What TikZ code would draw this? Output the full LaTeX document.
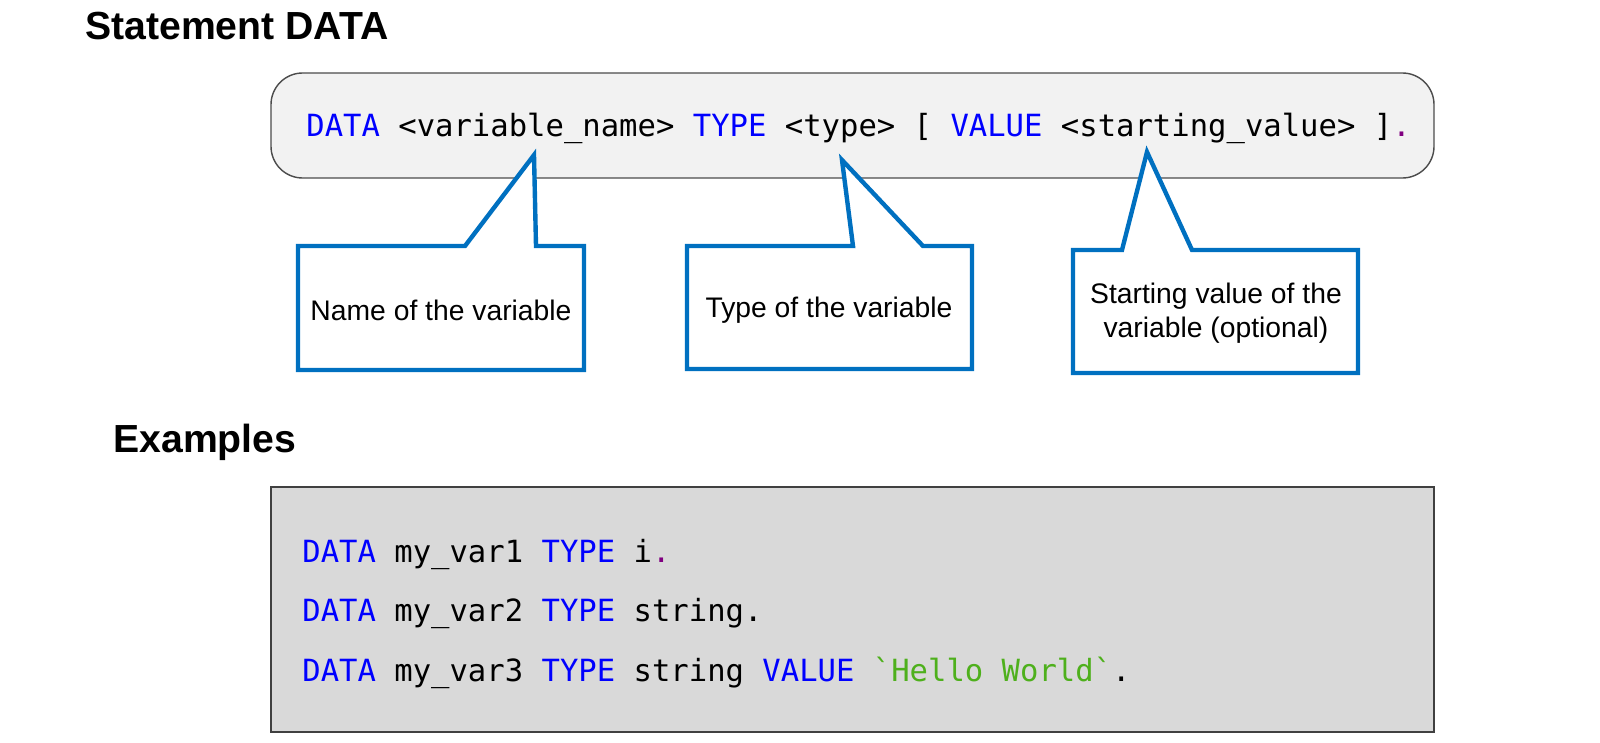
\documentclass[tikz,border=0pt]{standalone}
\usepackage{fontspec}
\setmainfont{Liberation Sans}
\setmonofont{DejaVu Sans Mono}
\usepackage{xcolor}
\usetikzlibrary{positioning}
\definecolor{kwblue}{RGB}{0,0,255}
\definecolor{dotpurple}{RGB}{128,0,128}
\definecolor{strgreen}{RGB}{78,176,28}
\definecolor{calloutblue}{RGB}{0,112,192}
\definecolor{syntaxbg}{RGB}{242,242,242}
\definecolor{examplebg}{RGB}{217,217,217}
\newcommand{\kw}[1]{\textcolor{kwblue}{#1}}
\newcommand{\pdot}{\textcolor{dotpurple}{.}}
\tikzset{
    heading/.style={
        anchor=base west,
        inner sep=0pt,
        font=\fontsize{22.3}{26}\selectfont\bfseries
    },
    codeline/.style={
        anchor=base west,
        inner sep=0pt,
        font=\fontsize{17.4}{20}\selectfont\ttfamily
    },
    calloutline/.style={
        draw=calloutblue,
        line width=2.5pt,
        fill=white
    },
    calloutlabel/.style={
        align=center,
        inner sep=0pt,
        font=\fontsize{16.1}{19}\selectfont
    }
}

\begin{document}
\begin{tikzpicture}[x=0.02cm,y=-0.02cm]
        \useasboundingbox (0,0) rectangle (1600,743);
        % headings
        \node[heading] (title) at (85,40) {Statement DATA};
        \node[heading] (examples) at (113,452) {Examples};
        % syntax box
        \draw[fill=syntaxbg,draw=black!70,line width=0.8pt,rounded corners=18]
            (271,73) rectangle (1434,178);
        \node[codeline] (syntax) at (306,137) {\kw{DATA} <variable\_name> \kw{TYPE}
            <type> [ \kw{VALUE} <starting\_value> ]\pdot};
        % callout tips
        \coordinate (nameTip) at (534,155);
        \coordinate (typeTip) at (842,160);
        \coordinate (startTip) at (1147,152);
        % callouts
        \draw[calloutline] (298,246) -- (465,246) -- (nameTip) -- (536,246)
            -- (584,246) -- (584,370) -- (298,370) -- cycle;
        \node[calloutlabel] (nameLabel) at (441,310) {Name of the variable};
        \draw[calloutline] (687,246) -- (853,246) -- (typeTip) -- (923,246)
            -- (972,246) -- (972,369) -- (687,369) -- cycle;
        \node[calloutlabel] (typeLabel) at (829,310) {Type of the variable};
        \draw[calloutline] (1073,250) -- (1122,250) -- (startTip) -- (1192,250)
            -- (1358,250) -- (1358,373) -- (1073,373) -- cycle;
        \node[calloutlabel] (startLabel) at (1216,313)
            {Starting value of the\\variable (optional)};
        % examples box
        \draw[fill=examplebg,draw=black!75,line width=0.9pt]
            (271,487) rectangle (1434,732);
        \node[codeline] (ex1) at (302,562) {\kw{DATA} my\_var1 \kw{TYPE} i\pdot};
        \node[codeline] (ex2) at (302,621.5) {\kw{DATA} my\_var2 \kw{TYPE} string.};
        \node[codeline] (ex3) at (302,681) {\kw{DATA} my\_var3 \kw{TYPE} string
            \kw{VALUE} \textcolor{strgreen}{`Hello World`}.};
\end{tikzpicture}
\end{document}
